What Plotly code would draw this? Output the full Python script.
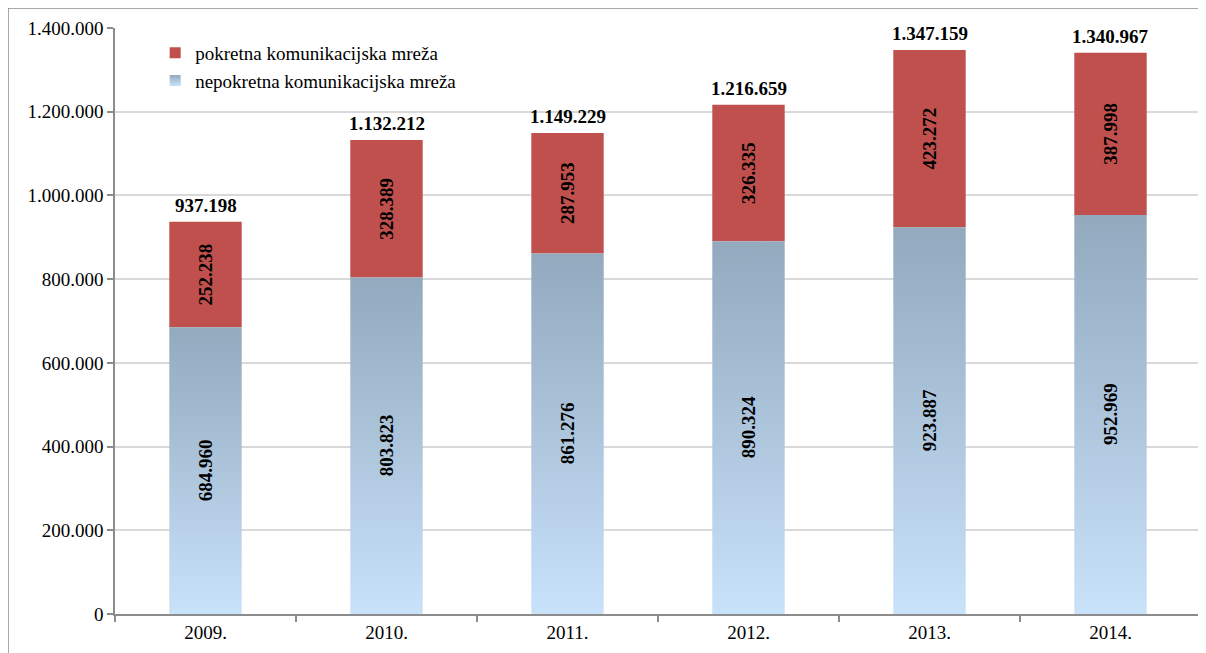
import plotly.graph_objects as go

years = ["2009.", "2010.", "2011.", "2012.", "2013.", "2014."]
nepokretna = [684960, 803823, 861276, 890324, 923887, 952969]
pokretna = [252238, 328389, 287953, 326335, 423272, 387998]
totals = [937198, 1132212, 1149229, 1216659, 1347159, 1340967]
y_ticks = [0, 200000, 400000, 600000, 800000, 1000000, 1200000, 1400000]

FONT = "Liberation Serif, Times New Roman, serif"
RED = "#c0504d"
BLUE_TOP = "#92a9be"
BLUE_BOT = "#c8e2fa"
BAR_W = 0.4
idx = list(range(len(years)))


def fmt(v):
    return f"{v:,}".replace(",", ".")


fig = go.Figure()

fig.add_trace(go.Bar(
    x=idx, y=pokretna, base=nepokretna, width=BAR_W,
    marker=dict(color=RED, line=dict(width=0)),
    name="pokretna komunikacijska mreža", showlegend=False,
    text=[fmt(v) for v in pokretna], textposition="inside",
    textangle=-90, insidetextanchor="middle",
    textfont=dict(family=FONT, size=19, color="black", weight="bold"),
))

for i, v in zip(idx, nepokretna):
    h = BAR_W / 2
    fig.add_trace(go.Scatter(
        x=[i - h, i + h, i + h, i - h, i - h], y=[0, 0, v, v, 0],
        mode="lines", fill="toself", line=dict(width=0),
        fillgradient=dict(type="vertical",
                          colorscale=[[0, BLUE_BOT], [1, BLUE_TOP]]),
        name="nepokretna komunikacijska mreža",
        showlegend=False, hoverinfo="skip",
    ))

# legend entries
fig.add_trace(go.Scatter(
    x=[None], y=[None], mode="markers",
    marker=dict(symbol="square", size=11, color=RED),
    name="pokretna komunikacijska mreža", legendrank=1,
))
fig.add_trace(go.Scatter(
    x=[None], y=[None], mode="markers",
    marker=dict(symbol="square", size=11, color=BLUE_TOP,
                gradient=dict(type="vertical", color=BLUE_BOT)),
    name="nepokretna komunikacijska mreža", legendrank=2,
))

for i, v in zip(idx, totals):
    fig.add_annotation(x=i, y=v, text=f"<b>{fmt(v)}</b>", showarrow=False,
                       yanchor="bottom", yshift=4,
                       font=dict(family=FONT, size=19, color="black"))

for i, v in zip(idx, nepokretna):
    fig.add_annotation(x=i, y=v / 2, text=f"<b>{fmt(v)}</b>", textangle=-90,
                       showarrow=False,
                       font=dict(family=FONT, size=19, color="black"))

fig.add_shape(type="rect", xref="paper", yref="paper",
              x0=-107 / 1086, x1=1.2, y0=-0.3, y1=1 + 20 / 586,
              line=dict(color="#8c8c8c", width=1.5), layer="below")
fig.add_shape(type="line", xref="paper", yref="paper",
              x0=1, x1=1, y0=0, y1=1,
              line=dict(color="#d9d9d9", width=1.5), layer="below")

fig.update_layout(
    width=1198, height=645,
    margin=dict(l=107, r=5, t=20, b=39),
    paper_bgcolor="white", plot_bgcolor="white",
    separators=",.",
    font=dict(family=FONT, size=19, color="black"),
    showlegend=True,
    legend=dict(x=0.037, y=0.99, xanchor="left", yanchor="top",
                bgcolor="rgba(0,0,0,0)", font=dict(family=FONT, size=19),
                traceorder="normal"),
)
fig.update_xaxes(
    range=[-0.5, 5.5], tickmode="array", tickvals=idx, ticktext=years,
    ticks="", showgrid=False, zeroline=False,
    showline=True, linecolor="#8c8c8c", linewidth=1.5,
    minor=dict(tickmode="linear", tick0=-0.5, dtick=1, ticks="outside",
               ticklen=6, tickcolor="#8c8c8c", tickwidth=1.5, showgrid=False),
    tickfont=dict(family=FONT, size=19),
)
fig.update_yaxes(
    range=[0, 1400000], tickmode="array", tickvals=y_ticks,
    tickformat=",d", ticks="outside", ticklen=6, tickcolor="#8c8c8c",
    tickwidth=1.5, showgrid=True, gridcolor="#d9d9d9", gridwidth=1.5,
    zeroline=False, showline=True, linecolor="#8c8c8c", linewidth=1.5,
    tickfont=dict(family=FONT, size=19),
)

fig.write_html("out.html")
